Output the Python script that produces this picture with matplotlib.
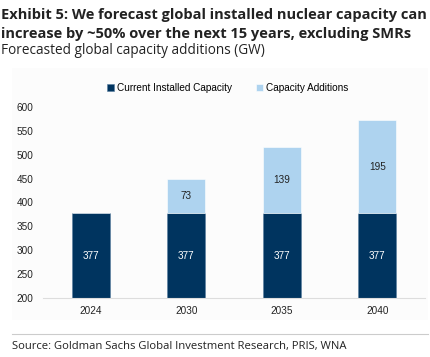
import matplotlib.pyplot as plt
import numpy as np

years = ['2024', '2030', '2035', '2040']
current = [377, 377, 377, 377]
additions = [0, 73, 139, 195]

dark = '#00345f'
light = '#aed3ef'

fig = plt.figure(figsize=(4.3, 3.57), dpi=100)

# light panel behind the chart
panel = fig.add_axes([12/430, 1 - 320/357, 416/430, (320 - 68)/357])
panel.set_facecolor('#fcfcfc')
panel.set_xticks([]), panel.set_yticks([])
for s in panel.spines.values():
    s.set_visible(False)

ax = fig.add_axes([43/430, 1 - 298/357, 382/430, 191/357])
ax.set_facecolor('none')
x = np.arange(len(years))
ax.bar(x, current, width=0.4, color=dark, label='Current Installed Capacity', edgecolor='#5a7fa0', linewidth=0.4)
ax.bar(x, additions, width=0.4, bottom=current, color=light, label='Capacity Additions', edgecolor='white', linewidth=0.4)

ax.set_ylim(200, 600)
ax.set_xlim(-0.5, 3.5)
ax.set_yticks(range(200, 601, 50))
ax.set_xticks(x)
ax.set_xticklabels(years)
ax.tick_params(length=0, labelsize=7.2, colors='#222222', pad=6)
ax.tick_params(axis='y', pad=7)
for lab in ax.get_xticklabels() + ax.get_yticklabels():
    lab.set_family('Liberation Sans')
for s in ['top', 'right', 'left']:
    ax.spines[s].set_visible(False)
ax.spines['bottom'].set_color('#dddddd')

for i in range(len(years)):
    ax.text(x[i], (200 + current[i]) / 2, str(current[i]), ha='center', va='center',
            color='white', fontsize=7.2, family='Liberation Sans')
    if additions[i] > 0:
        ax.text(x[i], current[i] + additions[i] / 2, str(additions[i]), ha='center', va='center',
                color='#222222', fontsize=7.2, family='Liberation Sans')

leg = fig.legend(loc='center', bbox_to_anchor=(228/430, 1 - 88/357), ncol=2, frameon=False,
                 handlelength=0.7, handleheight=0.7, handletextpad=0.3, columnspacing=2.4,
                 prop={'family': 'Liberation Sans', 'size': 7.2})

fig.text(1/430, 1 - 15/357, 'Exhibit 5: We forecast global installed nuclear capacity can',
         fontsize=10.5, fontweight='bold', family='Open Sans', va='center', color='#222222')
fig.text(1/430, 1 - 34/357, 'increase by ~50% over the next 15 years, excluding SMRs',
         fontsize=10.5, fontweight='bold', family='Open Sans', va='center', color='#222222')
fig.text(1/430, 1 - 51/357, 'Forecasted global capacity additions (GW)',
         fontsize=9.8, family='Open Sans', va='center', color='#222222')

fig.add_artist(plt.Line2D([12/430, 428/430], [1 - 334/357, 1 - 334/357], color='#cccccc', linewidth=0.8))
fig.text(12/430, 1 - 346/357, 'Source: Goldman Sachs Global Investment Research, PRIS, WNA',
         fontsize=8.1, family='Open Sans', va='center', color='#222222')

fig.savefig('out.png', dpi=100)
